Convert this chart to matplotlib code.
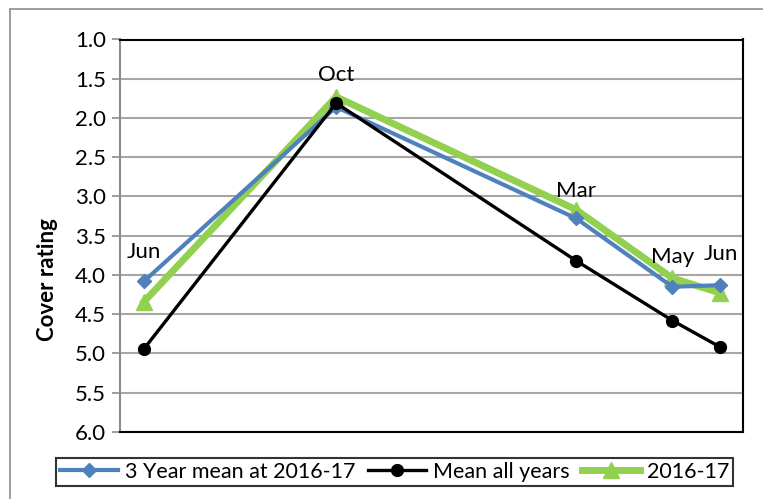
import matplotlib
matplotlib.use("Agg")
import matplotlib.pyplot as plt
from matplotlib.patches import Rectangle

plt.rcParams['font.family'] = ['Lato', 'DejaVu Sans']

# months since the first June survey
months = [0, 4, 9, 11, 12]
month_labels = ["Jun", "Oct", "Mar", "May", "Jun"]

mean_3yr = [4.08, 1.86, 3.28, 4.15, 4.13]
mean_all = [4.94, 1.81, 3.82, 4.58, 4.92]
season_1617 = [4.34, 1.73, 3.17, 4.04, 4.23]

fig = plt.figure(figsize=(7.63, 4.99), dpi=100)
ax = fig.add_axes([120 / 763, 1 - 432 / 499, 623 / 763, 392.5 / 499])

# light outer chart border
fig.patches.append(Rectangle((10 / 763, -0.1), 2, 1 - 9.5 / 499 + 0.1,
                             transform=fig.transFigure, fill=False,
                             edgecolor='#8c8c8c', linewidth=1.2))

ax.plot(months, mean_3yr, color='#4f81bd', lw=3, marker='D', ms=7,
        label='3 Year mean at 2016-17', zorder=3)
ax.plot(months, mean_all, color='black', lw=2.4, marker='o', ms=8.5,
        label='Mean all years', zorder=4)
ax.plot(months, season_1617, color='#92d050', lw=5, marker='^', ms=12,
        label='2016-17', zorder=2)

offsets = [29, 32, 27, 30, 31]
for x, y, lab, off in zip(months, mean_3yr, month_labels, offsets):
    ax.annotate(lab, (x, y), xytext=(0, off), textcoords='offset pixels',
                ha='center', va='center', fontsize=16, zorder=5)

ax.set_xlim(-0.5, 12.47)
ax.set_ylim(6.0, 1.0)
ax.set_yticks([1.0 + 0.5 * i for i in range(11)])
ax.set_yticklabels([f"{1.0 + 0.5 * i:.1f}" for i in range(11)], fontsize=16)
ax.set_xticks([])
ax.grid(axis='y', color='#a6a6a6', lw=1.5)
ax.set_axisbelow(True)
ax.tick_params(axis='y', length=6, width=1.2, color='#8c8c8c', pad=4)
for side in ['top', 'right', 'bottom']:
    ax.spines[side].set_color('black')
    ax.spines[side].set_linewidth(1.5)
ax.spines['left'].set_color('#8c8c8c')
ax.spines['left'].set_linewidth(1.5)

fig.text(48 / 763, 1 - 280 / 499, 'Cover rating', rotation=90, ha='center',
         va='center', fontsize=16, fontweight='bold')

leg = fig.legend(loc='center', bbox_to_anchor=(394.5 / 763, 1 - 472 / 499),
                 ncol=3, fontsize=15.5, frameon=True, fancybox=False,
                 edgecolor='black', handlelength=2.7, handletextpad=0.3,
                 columnspacing=0.6, borderpad=0.2, borderaxespad=0)
leg.get_frame().set_linewidth(1.5)

fig.savefig('out.png', dpi=100)
